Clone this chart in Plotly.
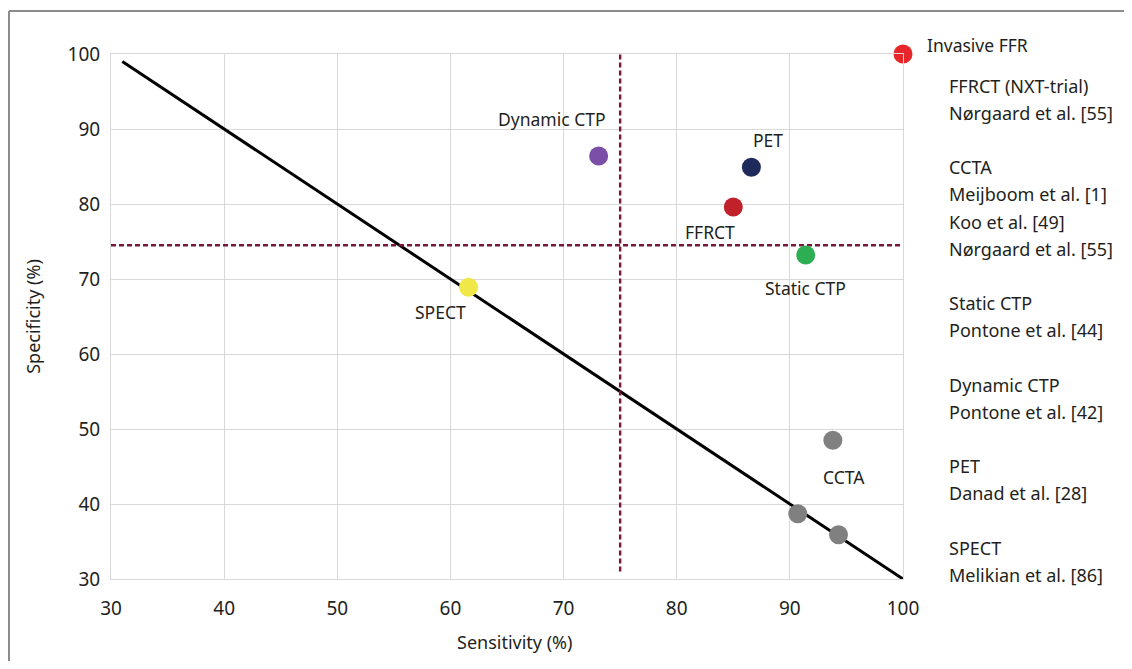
import plotly.graph_objects as go

# ---- data ----
methods = ["Invasive FFR", "FFRCT", "CCTA", "CCTA", "CCTA",
           "Static CTP", "Dynamic CTP", "PET", "SPECT"]
sensitivity = [100, 85.0, 93.8, 90.7, 94.3, 91.4, 73.1, 86.6, 61.6]
specificity = [100, 79.6, 48.5, 38.7, 35.9, 73.2, 86.4, 84.9, 68.9]
colors = ["#e8262a", "#c0212b", "#808080", "#808080", "#808080",
          "#2eae52", "#7b4fa8", "#1f2a5c", "#f0e848"]
show_label = [True, True, True, False, False, True, True, True, True]

ref_sens = [31, 100]
ref_spec = [99, 30]
sens_cut = 75
spec_cut = 74.5

axis_ticks = [30, 40, 50, 60, 70, 80, 90, 100]

source_groups = [
    ["FFRCT (NXT-trial)", "Nørgaard et al. [55]"],
    ["CCTA", "Meijboom et al. [1]", "Koo et al. [49]", "Nørgaard et al. [55]"],
    ["Static CTP", "Pontone et al. [44]"],
    ["Dynamic CTP", "Pontone et al. [42]"],
    ["PET", "Danad et al. [28]"],
    ["SPECT", "Melikian et al. [86]"],
]

# ---- styling / layout (page coordinates; body has an 8px margin) ----
PAGE_W, PAGE_H = 1132, 669
OFF = 8
PL, PT, PR, PB = 111, 54, 903, 579      # plot area on the page
W, H = PAGE_W - 2 * OFF, PAGE_H - 2 * OFF   # fit inside the page body
L, T = PL - OFF, PT - OFF
R, B = W - (PR - OFF), H - (PB - OFF)
plot_w, plot_h = PR - PL, PB - PT


def px_x(x):
    return (x - PL) / plot_w


def px_y(y):
    return (PB - y) / plot_h


FONT = "Noto Sans"
TXT = "#231f20"
DASH = "#7a1636"

label_offsets = {  # pixel offsets of the method labels from their markers
    "Invasive FFR": (22, 9, "left"),
    "FFRCT": (-23, -25, "center"),
    "CCTA": (11, -37, "center"),
    "Static CTP": (0, -33, "center"),
    "Dynamic CTP": (-47, 37, "center"),
    "PET": (17, 27, "center"),
    "SPECT": (-28, -25, "center"),
}

fig = go.Figure()

fig.add_trace(go.Scatter(x=ref_sens, y=ref_spec, mode="lines",
                         line=dict(color="black", width=3),
                         hoverinfo="skip", showlegend=False))
fig.add_trace(go.Scatter(x=[sens_cut, sens_cut], y=[31, 100], mode="lines",
                         line=dict(color=DASH, width=2.4, dash="5px,3px"),
                         hoverinfo="skip", showlegend=False, cliponaxis=False))
fig.add_trace(go.Scatter(x=[30, 100.5], y=[spec_cut, spec_cut], mode="lines",
                         line=dict(color=DASH, width=2.4, dash="5px,3px"),
                         hoverinfo="skip", showlegend=False, cliponaxis=False))
fig.add_trace(go.Scatter(x=sensitivity, y=specificity, mode="markers",
                         marker=dict(size=19, color=colors, line=dict(width=0)),
                         text=methods, cliponaxis=False, showlegend=False))

annotations = []
for m, sx, sy, show in zip(methods, sensitivity, specificity, show_label):
    if not show:
        continue
    dx, dy, anchor = label_offsets[m]
    annotations.append(dict(x=sx, y=sy, xref="x", yref="y", text=m,
                            showarrow=False, xshift=dx, yshift=dy,
                            xanchor=anchor, yanchor="middle",
                            font=dict(family=FONT, size=17.5, color=TXT)))

line_step = 27.2
y_px = 85.5
for grp in source_groups:
    for line in grp:
        annotations.append(dict(x=px_x(947), y=px_y(y_px),
                                xref="paper", yref="paper", text=line,
                                showarrow=False, xanchor="left", yanchor="middle",
                                font=dict(family=FONT, size=18, color=TXT)))
        y_px += line_step
    y_px += line_step

# x-axis title (slightly right of the plot centre, as in the original)
annotations.append(dict(x=px_x(515), y=px_y(642), xref="paper", yref="paper",
                        text="Sensitivity (%)", showarrow=False,
                        xanchor="center", yanchor="middle",
                        font=dict(family=FONT, size=18, color=TXT)))

frame = dict(color="#8c8c8c", width=2)
shapes = [
    dict(type="line", xref="paper", yref="paper", layer="below",
         x0=px_x(9), x1=px_x(PAGE_W + 20), y0=px_y(11), y1=px_y(11), line=frame),
    dict(type="line", xref="paper", yref="paper", layer="below",
         x0=px_x(9), x1=px_x(9), y0=px_y(11), y1=px_y(PAGE_H + 20), line=frame),
]

axis_common = dict(range=[30, 100], tickvals=axis_ticks, showgrid=True,
                   gridcolor="#d9d9d9", gridwidth=1, showline=True,
                   linecolor="#d9d9d9", linewidth=1, mirror=True,
                   zeroline=False, ticks="",
                   tickfont=dict(family=FONT, size=19, color=TXT))

fig.update_layout(
    width=W, height=H,
    margin=dict(l=L, r=R, t=T, b=B, autoexpand=False),
    paper_bgcolor="white", plot_bgcolor="white",
    xaxis=dict(**axis_common, ticklabelstandoff=12),
    yaxis=dict(**axis_common, ticklabelstandoff=6,
               title=dict(text="Specificity (%)", standoff=22,
                          font=dict(family=FONT, size=18, color=TXT))),
    annotations=annotations, shapes=shapes, showlegend=False,
)

fig.write_html("out.html")
